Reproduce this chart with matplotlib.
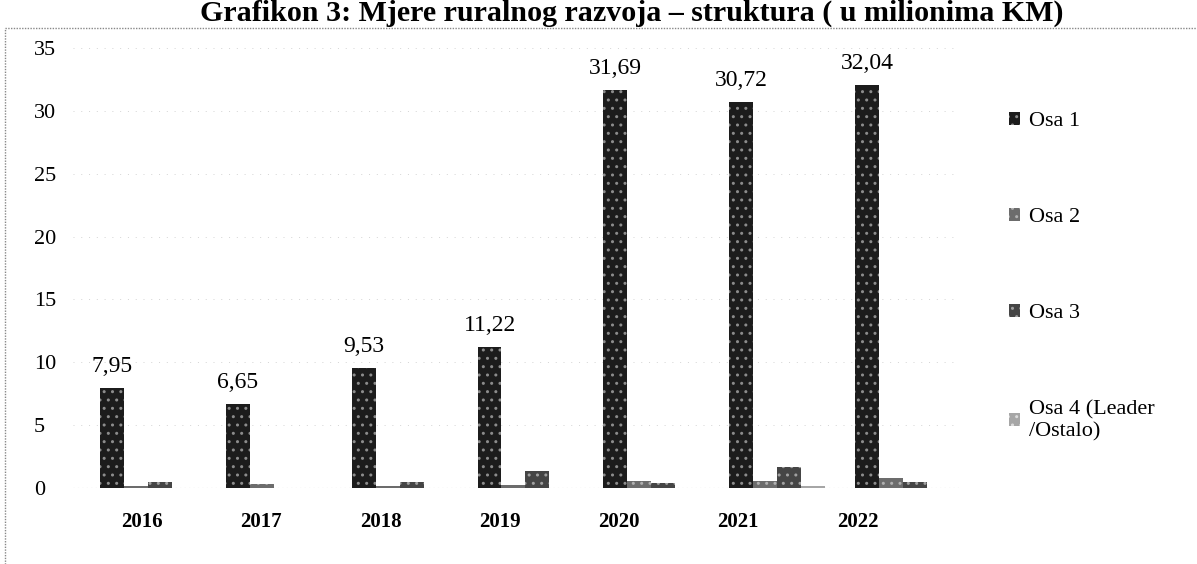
import matplotlib.pyplot as plt
import matplotlib.patches as patches
import numpy as np

# Grafikon 3 - mjere ruralnog razvoja, u milionima KM
years = ["2016", "2017", "2018", "2019", "2020", "2021", "2022"]
osa1 = [7.95, 6.65, 9.53, 11.22, 31.69, 30.72, 32.04]
osa2 = [0.15, 0.35, 0.15, 0.2, 0.55, 0.55, 0.8]
osa3 = [0.45, 0.0, 0.45, 1.35, 0.4, 1.65, 0.5]
osa4 = [0.0, 0.0, 0.0, 0.0, 0.0, 0.15, 0.0]
series_names = ["Osa 1", "Osa 2", "Osa 3", "Osa 4 (Leader\n/Ostalo)"]
osa1_labels = ["7,95", "6,65", "9,53", "11,22", "31,69", "30,72", "32,04"]

plt.rcParams['font.family'] = ['Liberation Serif', 'DejaVu Serif']
plt.rcParams['hatch.linewidth'] = 1.0

W, H = 1197, 564
fig = plt.figure(figsize=(W / 100, H / 100), dpi=100)

# axes placed in pixels: group 0 centre at x=148, 125.8 px per category
px_per_cat = 125.8
x0, x1 = -0.6, 6.45
left_px = 148 + x0 * px_per_cat
ax = fig.add_axes([left_px / W, 1 - 488 / H, (x1 - x0) * px_per_cat / W, (488 - 48) / H])

x = np.arange(len(years))
bw = 0.19
styles = [
    dict(color='#1c1c1c', edgecolor='#8c8c8c', hatch='..'),
    dict(color='#6c6c6c', edgecolor='#b0b0b0', hatch='..'),
    dict(color='#454545', edgecolor='#a0a0a0', hatch='..'),
    dict(color='#a6a6a6', edgecolor='#dcdcdc', hatch='..'),
]
all_series = [osa1, osa2, osa3, osa4]
bars = []
for k, (vals, st) in enumerate(zip(all_series, styles)):
    b = ax.bar(x + (k - 1.5) * bw, vals, bw, facecolor=st['color'],
               edgecolor=st['edgecolor'], hatch=st['hatch'], linewidth=0,
               label=series_names[k], zorder=3)
    bars.append(b)

for rect, lab in zip(bars[0], osa1_labels):
    ax.annotate(lab, (rect.get_x() + rect.get_width() / 2, rect.get_height()),
                xytext=(0, 8), textcoords='offset points', ha='center', va='bottom',
                fontsize=17)

ax.set_xlim(x0, x1)
ax.set_ylim(0, 35)
ax.set_yticks(np.arange(0, 36, 5))
ax.set_yticklabels([str(v) for v in range(0, 36, 5)], fontsize=16, ha='left')
ax.tick_params(axis='y', length=0, pad=(left_px - 34) * 0.72)

# year labels drift a little against the bar groups in the original
ax.set_xticks(0.948 * x - 0.048)
ax.set_xticklabels(years, fontsize=15, fontweight='bold')
ax.tick_params(axis='x', length=0, pad=17)

for s in ax.spines.values():
    s.set_visible(False)
ax.grid(axis='y', linestyle=(0, (1, 7)), color='#d4d4d4', linewidth=0.7, zorder=0)
ax.axhline(0, linestyle=(0, (1, 3)), color='#999999', linewidth=0.8, zorder=2)

leg = fig.legend(handles=bars, labels=series_names, loc='upper left',
                 bbox_to_anchor=(998 / W, 1 - 101 / H), frameon=False,
                 fontsize=16, handlelength=0.5, handleheight=0.5,
                 handletextpad=0.4, labelspacing=3.45, borderpad=0)

# dotted frame of the scanned chart
fig.patches.append(patches.Rectangle((5 / W, -0.05), 1.2, 1 - 28 / H + 0.05,
                                     transform=fig.transFigure, fill=False,
                                     edgecolor='#888888', linestyle=(0, (1, 1)),
                                     linewidth=1.0))

fig.text(632 / W, 1 - 21 / H, "Grafikon 3: Mjere ruralnog razvoja \u2013 struktura ( u milionima KM)",
         ha='center', va='baseline', fontsize=21.6, fontweight='bold')

fig.savefig("out.png", dpi=100)
